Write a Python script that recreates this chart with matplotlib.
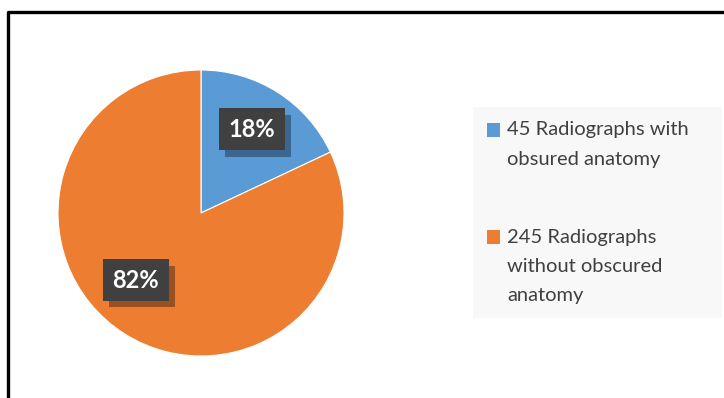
import matplotlib.pyplot as plt
import matplotlib.patheffects as pe
from matplotlib.patches import Rectangle
from matplotlib.lines import Line2D

# share of radiographs (percent) and legend text
shares = [18, 82]
pct_labels = ['18%', '82%']
legend_labels = ['45 Radiographs with\nobsured anatomy',
                 '245 Radiographs\nwithout obscured\nanatomy']
colors = ['#5B9BD5', '#ED7D31']
shadow_colors = ['#3A6690', '#9A5020']
# where the percent boxes sit, in pie units
label_xy = [(0.355, 0.585), (-0.455, -0.47)]

plt.rcParams['font.family'] = ['Lato', 'DejaVu Sans']

W, H = 724, 398
fig = plt.figure(figsize=(W / 100, H / 100), dpi=100)

# pie centred at (201, 213) px with radius 143 px
cx, cy, r = 201, 213, 143
ax = fig.add_axes([(cx - r) / W, (H - cy - r) / H, 2 * r / W, 2 * r / H])
ax.pie(shares, colors=colors, startangle=90, counterclock=False,
       wedgeprops=dict(edgecolor='white', linewidth=0.8))
ax.set_xlim(-1, 1)
ax.set_ylim(-1, 1)
ax.set_aspect('equal')

for lab, (x, y), sc in zip(pct_labels, label_xy, shadow_colors):
    t = ax.text(x, y, lab, ha='center', va='center', color='white',
                fontsize=17, fontweight='bold',
                bbox=dict(boxstyle='square,pad=0.4', facecolor='#404040',
                          edgecolor='none'))
    t.get_bbox_patch().set_path_effects([
        pe.SimplePatchShadow(offset=(4.5, -4.5), shadow_rgbFace=sc, alpha=1),
        pe.Normal()])

# legend panel
fig.patches.append(Rectangle((473 / W, (H - 318) / H), 249 / W, 211 / H,
                             transform=fig.transFigure, facecolor='#F8F8F8',
                             edgecolor='none', zorder=0))
entry_tops = [130, 237]
line_gap = 29.5
for lab, c, ty in zip(legend_labels, colors, entry_tops):
    fig.patches.append(Rectangle((487 / W, (H - ty - 7) / H), 13 / W, 14 / H,
                                 transform=fig.transFigure, facecolor=c,
                                 edgecolor='none'))
    for i, line in enumerate(lab.split('\n')):
        fig.text(507 / W, (H - ty - i * line_gap) / H, line, ha='left',
                 va='center', fontsize=14.5, color='#404040')

# outer frame (left and top edges)
fig.add_artist(Line2D([8 / W, 8 / W, 1.0], [0.0, (H - 12) / H, (H - 12) / H],
                      transform=fig.transFigure, color='black', linewidth=2.4))

fig.savefig('out.png', dpi=100)
